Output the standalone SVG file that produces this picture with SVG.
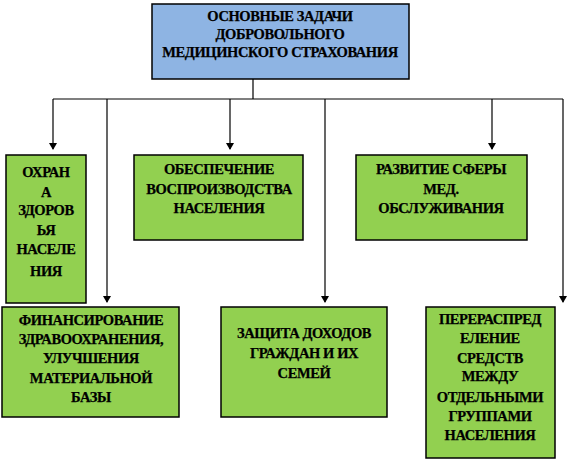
<svg xmlns="http://www.w3.org/2000/svg" width="569" height="461" viewBox="0 0 569 461">
<style>
.box{stroke:#000;stroke-width:1.5}
.blue{fill:#8EB4E3}
.green{fill:#92D050}
text{font-family:"Liberation Serif","DejaVu Serif",serif;font-weight:bold;font-size:14.5px;letter-spacing:-0.4px;text-anchor:middle;fill:#000;stroke:#000;stroke-width:0.25}
.c{fill:none;stroke:#000;stroke-width:1.2}
</style>
<defs>
<marker id="ah" markerWidth="8" markerHeight="8" refX="4" refY="7" orient="0" markerUnits="userSpaceOnUse" viewBox="0 0 8 8">
<path d="M0,1 L8,1 L4,8 Z" fill="#000"/>
</marker>
</defs>
<rect width="569" height="461" fill="#fff"/>
<g id="connectors">
<path class="c" d="M253,79 V99 M53,99 H563"/>
<path class="c" d="M53,99 V149" marker-end="url(#ah)"/>
<path class="c" d="M107,99 V302" marker-end="url(#ah)"/>
<path class="c" d="M230,99 V149" marker-end="url(#ah)"/>
<path class="c" d="M325,99 V302" marker-end="url(#ah)"/>
<path class="c" d="M492,99 V149" marker-end="url(#ah)"/>
<path class="c" d="M563,99 V302" marker-end="url(#ah)"/>
</g>
<g id="root">
<rect class="box blue" x="152" y="4" width="257" height="75"/>
<text x="280" y="21">ОСНОВНЫЕ ЗАДАЧИ</text>
<text x="280" y="39">ДОБРОВОЛЬНОГО</text>
<text x="280" y="57">МЕДИЦИНСКОГО СТРАХОВАНИЯ</text>
</g>
<g id="n1">
<rect class="box green" x="6" y="155" width="80" height="148"/>
<text x="46" y="177">ОХРАН</text>
<text x="46" y="197">А</text>
<text x="46" y="215">ЗДОРОВ</text>
<text x="46" y="235">ЬЯ</text>
<text x="46" y="254">НАСЕЛЕ</text>
<text x="46" y="276">НИЯ</text>
</g>
<g id="n2">
<rect class="box green" x="134" y="155" width="169" height="85"/>
<text x="219" y="174">ОБЕСПЕЧЕНИЕ</text>
<text x="219" y="194">ВОСПРОИЗВОДСТВА</text>
<text x="219" y="213">НАСЕЛЕНИЯ</text>
</g>
<g id="n3">
<rect class="box green" x="356" y="155" width="171" height="85"/>
<text x="441" y="174">РАЗВИТИЕ СФЕРЫ</text>
<text x="441" y="194">МЕД.</text>
<text x="441" y="213">ОБСЛУЖИВАНИЯ</text>
</g>
<g id="n4">
<rect class="box green" x="2" y="307" width="177" height="110"/>
<text x="91" y="325">ФИНАНСИРОВАНИЕ</text>
<text x="91" y="344">ЗДРАВООХРАНЕНИЯ,</text>
<text x="91" y="363">УЛУЧШЕНИЯ</text>
<text x="91" y="383">МАТЕРИАЛЬНОЙ</text>
<text x="91" y="402">БАЗЫ</text>
</g>
<g id="n5">
<rect class="box green" x="221" y="307" width="166" height="110"/>
<text x="304" y="338">ЗАЩИТА ДОХОДОВ</text>
<text x="304" y="358">ГРАЖДАН И ИХ</text>
<text x="304" y="378">СЕМЕЙ</text>
</g>
<g id="n6">
<rect class="box green" x="426" y="307" width="129" height="151"/>
<text x="490" y="324">ПЕРЕРАСПРЕД</text>
<text x="490" y="343">ЕЛЕНИЕ</text>
<text x="490" y="363">СРЕДСТВ</text>
<text x="490" y="381">МЕЖДУ</text>
<text x="490" y="402">ОТДЕЛЬНЫМИ</text>
<text x="490" y="421">ГРУППАМИ</text>
<text x="490" y="440">НАСЕЛЕНИЯ</text>
</g>
</svg>
